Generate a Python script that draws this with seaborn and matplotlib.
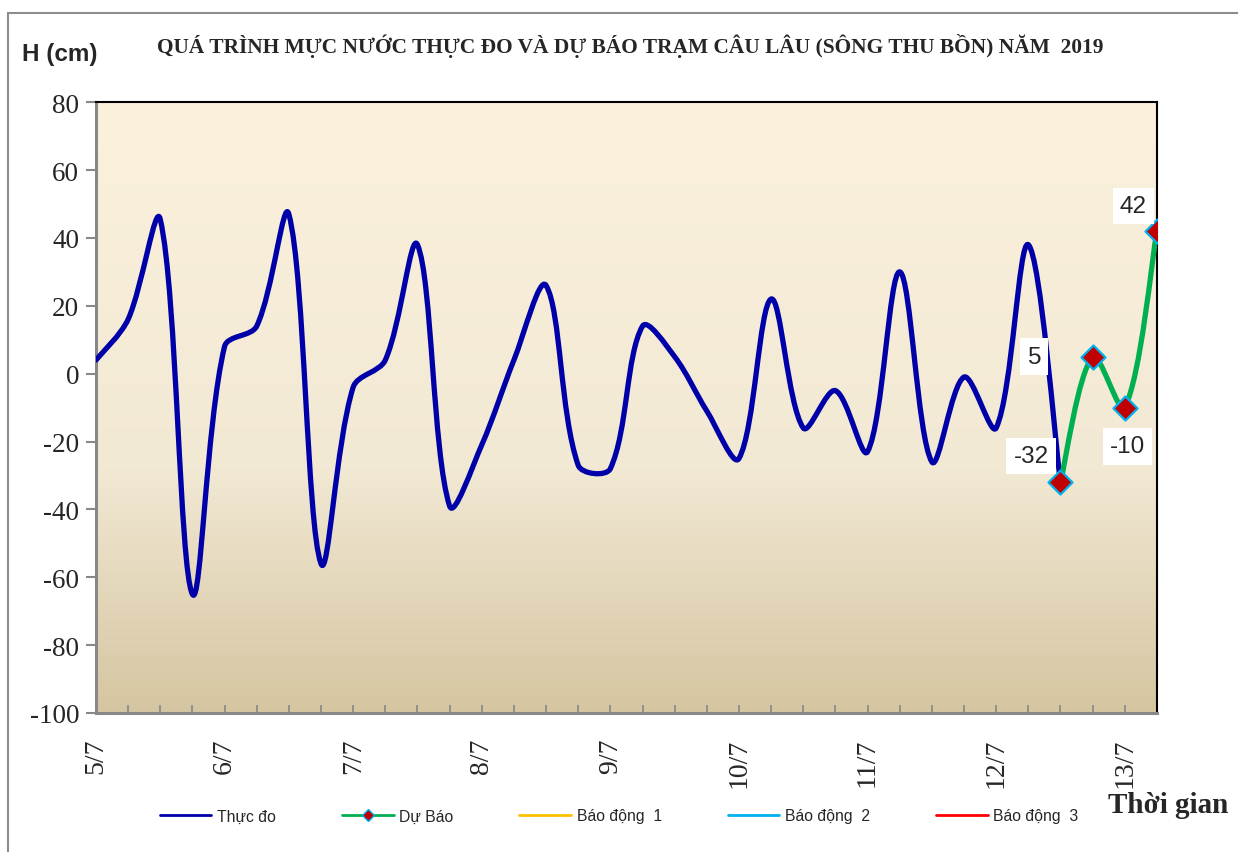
import numpy as np
import matplotlib
matplotlib.use("Agg")
import matplotlib.pyplot as plt
import seaborn as sns
from matplotlib.path import Path
from matplotlib.patches import PathPatch, Rectangle
from matplotlib.lines import Line2D

# Data (water level, cm, every 6 hours from 5/7 00h)
observed = [4, 16, 45.5, -65,
            8, 14, 47, -56,
            -4, 4, 38, -39,
            -21, 4, 26, -27,
            -28, 14, 5, -11,
            -25, 22, -16, -5,
            -23, 30, -26, -1,
            -16, 38, -32]
forecast = [-32, 5, -10, 42]
day_labels = ["5/7", "6/7", "7/7", "8/7", "9/7", "10/7", "11/7", "12/7", "13/7"]
legend_labels = ["Thực đo", "Dự Báo", "Báo động  1", "Báo động  2", "Báo động  3"]

title = "QUÁ TRÌNH MỰC NƯỚC THỰC ĐO VÀ DỰ BÁO TRẠM CÂU LÂU (SÔNG THU BỒN) NĂM  2019"

sns.set_style("ticks")
plt.rcParams["font.family"] = ["Liberation Serif", "DejaVu Serif"]
plt.rcParams["axes.unicode_minus"] = False

step = 0.25  # 6 hours in days
x_obs = np.arange(len(observed)) * step
x_fc = x_obs[-1] + np.arange(len(forecast)) * step

# approx pixel scale of the plot area, used only to shape the smoothing
SX, SY = 128.4, 3.394


def smooth_path(x, y):
    # Excel-like smoothed line: Bezier segments, chord weighted tangents
    pts = np.column_stack([np.asarray(x, float) * SX, np.asarray(y, float) * SY])
    p = np.vstack([pts[0], pts, pts[-1]])
    verts = [pts[0]]
    codes = [Path.MOVETO]
    for i in range(1, len(p) - 2):
        a, b = p[i], p[i + 1]
        d_seg = np.linalg.norm(b - a)
        t1 = p[i + 1] - p[i - 1]
        d_prev = np.linalg.norm(a - p[i - 1])
        w1 = d_seg / (d_prev + d_seg) if d_prev > 0 else 0.5
        t2 = p[i + 2] - p[i]
        d_next = np.linalg.norm(p[i + 2] - b)
        w2 = d_seg / (d_seg + d_next) if d_next > 0 else 0.5
        c1 = a + t1 * w1 / 3
        c2 = b - t2 * w2 / 3
        verts += [c1, c2, b]
        codes += [Path.CURVE4] * 3
    verts = np.array(verts) / [SX, SY]
    return Path(verts, codes)


fig = plt.figure(figsize=(12.38, 8.53), dpi=100)
ax = fig.add_axes([0.0775, 0.163, 0.857, 0.716])

xmax = x_fc[-1]
ax.set_xlim(0, xmax)
ax.set_ylim(-100, 80)

# gradient background
grad = np.linspace(0, 1, 256)[:, None]
top = np.array([251, 241, 221]) / 255
mid = np.array([242, 233, 212]) / 255
bot = np.array([213, 197, 161]) / 255
cols = np.where(grad[..., None] < 0.6,
                top + (mid - top) * (grad[..., None] / 0.6),
                mid + (bot - mid) * ((grad[..., None] - 0.6) / 0.4))
ax.imshow(cols, extent=(0, xmax, -100, 80), aspect="auto", zorder=0, origin="upper")

blue = "#0000A8"
green = "#00B050"
ax.add_patch(PathPatch(smooth_path(x_obs, observed), facecolor="none", edgecolor=blue,
                       lw=3.8, capstyle="round", joinstyle="round", zorder=3))
ax.add_patch(PathPatch(smooth_path(x_fc, forecast), facecolor="none", edgecolor=green,
                       lw=3.8, capstyle="round", joinstyle="round", zorder=4))
sns.scatterplot(x=x_fc, y=forecast, marker="D", s=150, color="#C00000",
                edgecolor="#00B0F0", linewidth=1.6, zorder=5, ax=ax, legend=False)

# data labels
offsets = [(-21, 19), (-42, 0), (2, -28), (-17, 18)]
for xv, yv, off in zip(x_fc, forecast, offsets):
    ax.annotate(f"{yv:g}", (xv, yv), xytext=off, textcoords="offset points",
                ha="center", va="center", fontsize=17.5, family=["Liberation Sans", "DejaVu Sans"],
                bbox=dict(boxstyle="square,pad=0.3", fc="white", ec="none"), zorder=6,
                annotation_clip=False)

# axes styling
ax.set_xticks(np.arange(len(day_labels)))
ax.set_xticklabels(day_labels, rotation=90, fontsize=20)
ax.set_xticks(np.arange(0, xmax + 0.01, step), minor=True)
ax.tick_params(axis="x", which="both", direction="in", length=6, width=1.2,
               color="#888888", pad=18)
ax.set_yticks(np.arange(-100, 81, 20))
ax.tick_params(axis="y", direction="out", length=7, width=1.5, color="#888888",
               labelsize=19.5, pad=5)
for lab in ax.get_xticklabels():
    lab.set_va("top")
    lab.set_ha("center")
ax.spines["left"].set_color("#888888")
ax.spines["left"].set_linewidth(2.2)
ax.spines["bottom"].set_color("#888888")
ax.spines["bottom"].set_linewidth(2.2)
ax.spines["top"].set_color("black")
ax.spines["right"].set_color("black")
ax.spines["top"].set_linewidth(1.5)
ax.spines["right"].set_linewidth(1.5)
ax.set_xlabel("")
ax.set_ylabel("")

# texts
fig.text(0.509, 1 - 46 / 853, title, ha="center", va="center", fontsize=15.4,
         fontweight="bold")
fig.text(22 / 1238, 1 - 55 / 853, "H (cm)", ha="left", va="center", fontsize=17.5,
         fontweight="bold", family=["Liberation Sans", "DejaVu Sans"])
fig.text(1228 / 1238, 1 - 806 / 853, "Thời gian", ha="right", va="center",
         fontsize=21, fontweight="bold")

# legend
handles = [
    Line2D([], [], color=blue, lw=2),
    Line2D([], [], color=green, lw=2, marker="D", markersize=6,
           markerfacecolor="#C00000", markeredgecolor="#00B0F0"),
    Line2D([], [], color="#FFC000", lw=2),
    Line2D([], [], color="#00B0F0", lw=2),
    Line2D([], [], color="#FF0000", lw=2),
]
fig.legend(handles, legend_labels, loc="center", bbox_to_anchor=(0.5, 1 - 817 / 853),
           ncol=5, frameon=False, handlelength=3.3, handletextpad=0.35,
           columnspacing=4.2, numpoints=1,
           prop={"family": ["Liberation Sans", "DejaVu Sans"], "size": 11.3})

# outer chart border
fig.patches.append(Rectangle((8 / 1238, -0.1), 1.2, 1.1 - 14 / 853,
                             transform=fig.transFigure, fill=False,
                             edgecolor="#8C8C8C", lw=1.5, zorder=0))

fig.savefig("out.png", dpi=100)
